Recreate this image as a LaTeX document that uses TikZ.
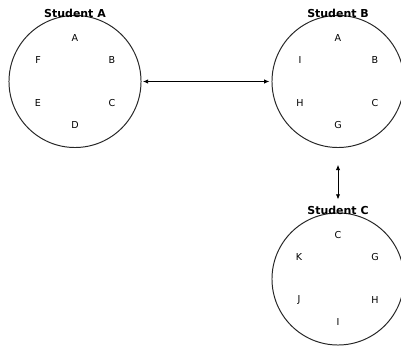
\documentclass[tikz,border=0pt]{standalone}
\usepackage{fontspec}
\setmainfont{DejaVu Sans}
\usepackage{tikz}
\usetikzlibrary{arrows.meta}

\tikzset{
  seat/.style={circle,draw=black!85,line width=0.7pt,minimum size=3.3cm,inner sep=0pt},
  tag/.style={font=\fontsize{6.8}{8}\selectfont,inner sep=0pt},
  title/.style={font=\fontsize{7.8}{9}\selectfont\bfseries,inner sep=0pt},
  link/.style={{Latex[length=1.3mm,width=1.1mm]}-{Latex[length=1.3mm,width=1.1mm]},line width=0.6pt}
}

\begin{document}
\begin{tikzpicture}[x=0.025cm,y=-0.025cm]
\useasboundingbox (0,0) rectangle (401,346);

% Student A
\node[seat] (stuA) at (75,81.5) {};
\node[title] (titA) at (75,13) {Student A};
\node[tag] (a1) at (75,38) {A};
\node[tag] (a2) at (112,60) {B};
\node[tag] (a3) at (112,103) {C};
\node[tag] (a4) at (75,125) {D};
\node[tag] (a5) at (38,103) {E};
\node[tag] (a6) at (38,60) {F};

% Student B
\node[seat] (stuB) at (338,81.5) {};
\node[title] (titB) at (338,13) {Student B};
\node[tag] (b1) at (338,38) {A};
\node[tag] (b2) at (375,60) {B};
\node[tag] (b3) at (375,103) {C};
\node[tag] (b4) at (338,125) {G};
\node[tag] (b5) at (300,103) {H};
\node[tag] (b6) at (300,60) {I};

% Student C
\node[seat] (stuC) at (338,279) {};
\node[title] (titC) at (338,210) {Student C};
\node[tag] (c1) at (338,235) {C};
\node[tag] (c2) at (375,257) {G};
\node[tag] (c3) at (375,300) {H};
\node[tag] (c4) at (338,322) {I};
\node[tag] (c5) at (299,300) {J};
\node[tag] (c6) at (299,257) {K};

% Links
\draw[link,shorten <=1pt,shorten >=1.5pt] (stuA) -- (stuB);
\draw[link,shorten <=0.42cm,shorten >=0.15cm] (stuB) -- (titC);

\end{tikzpicture}
\end{document}
